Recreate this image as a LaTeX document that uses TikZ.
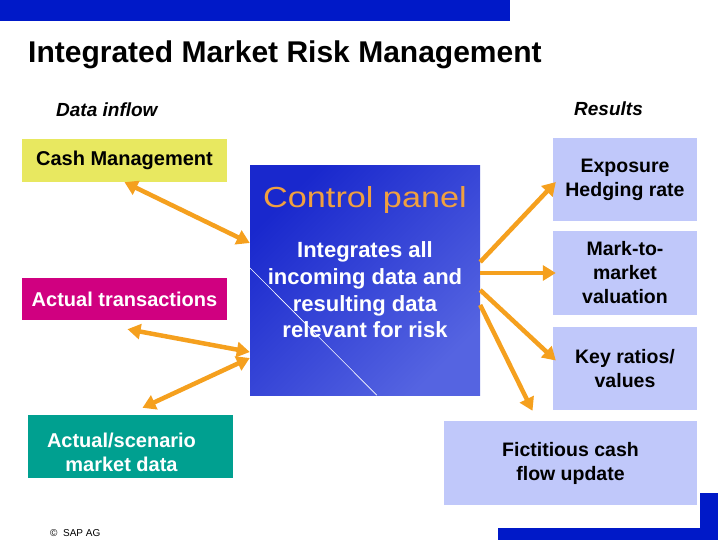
\documentclass[tikz,border=0pt]{standalone}
\usepackage{fontspec}
\setmainfont{Liberation Sans}
\newfontfamily\widefont[FakeStretch=1.18]{Liberation Sans}
\usetikzlibrary{arrows.meta,positioning,calc}

\definecolor{sapblue}{RGB}{0,25,200}
\definecolor{cashyellow}{RGB}{232,232,96}
\definecolor{transmagenta}{RGB}{208,0,128}
\definecolor{marketteal}{RGB}{0,160,144}
\definecolor{resultblue}{RGB}{192,200,250}
\definecolor{arroworange}{RGB}{245,160,30}
\definecolor{paneldark}{RGB}{25,40,205}
\definecolor{panellight}{RGB}{85,100,225}
\definecolor{paneltext}{RGB}{240,160,64}

\tikzset{
  srcbox/.style={inner sep=0pt, minimum width=205pt, align=center, font=\bfseries\fontsize{20}{24}\selectfont},
  resbox/.style={fill=resultblue, inner sep=0pt, align=center, font=\bfseries\fontsize{19.5}{24}\selectfont},
  flow/.style={draw=arroworange, line width=4.5pt, -{Triangle[length=13pt,width=15pt]}},
  biflow/.style={draw=arroworange, line width=4.5pt, {Triangle[length=13pt,width=15pt]}-{Triangle[length=13pt,width=15pt]}}
}

\begin{document}
\begin{tikzpicture}[x=1pt, y=-1pt]
    \useasboundingbox (0,0) rectangle (720,540);
    % frame bars
    \fill[sapblue] (0,0) rectangle (510,21);
    \fill[sapblue] (700,493) rectangle (718,540);
    \fill[sapblue] (498,528) rectangle (718,540);

    \node (title) [anchor=base west, inner sep=0pt, font=\bfseries\fontsize{30}{34}\selectfont] at (28,63) {Integrated Market Risk Management};
    \node (inflow) [anchor=base west, inner sep=0pt, font=\bfseries\itshape\fontsize{19}{22}\selectfont] at (56,117) {Data inflow};
    \node (results) [anchor=base west, inner sep=0pt, font=\bfseries\itshape\fontsize{19}{22}\selectfont] at (574,116) {Results};

    % data inflow
    \node (cash) [srcbox, fill=cashyellow, minimum height=43pt] at (124.5,160.5) {Cash Management};
    \node (tran) [srcbox, fill=transmagenta, text=white, minimum height=42pt] at (124.5,299) {Actual transactions};
    \node (mkt) [srcbox, fill=marketteal, minimum height=63pt] at (130.5,446.5) {};
    \node (mkttext) [text=white, align=center, font=\bfseries\fontsize{20}{24}\selectfont] at ($(mkt.center)+(-9,6)$) {Actual/scenario\\market data};

    % control panel
    \node (control) [minimum width=230pt, minimum height=229pt, inner sep=0pt, top color=paneldark, bottom color=panellight, shading angle=45] at (365,280.5) {};
    \draw[white, line width=0.6pt] ($(control.north west)+(0,102)$) -- ($(control.south west)+(127,0)$);
    \node (cptitle) [text=paneltext, font=\widefont\fontsize{29}{32}\selectfont] at (365,200) {Control panel};
    \node (cpbody) [text=white, align=center, font=\bfseries\fontsize{22}{26.7}\selectfont] at (365,290) {Integrates all\\incoming data and\\resulting data\\relevant for risk};

    % results
    \node (expo) [resbox, minimum width=144pt, minimum height=83pt] at (625,179.5) {Exposure\\Hedging rate};
    \node (mark) [resbox, minimum width=144pt, minimum height=84pt] at (625,273) {Mark-to-\\market\\valuation};
    \node (keyr) [resbox, minimum width=144pt, minimum height=83pt] at (625,368.5) {Key ratios/\\values};
    \node (fict) [resbox, minimum width=253pt, minimum height=84pt] at (570.5,463) {Fictitious cash\\flow update};

    \node (copy) [anchor=west, inner sep=0pt, font=\fontsize{10}{12}\selectfont] at (50,533) {\textcopyright\ \ SAP AG};

    \draw[biflow] (cash.south) -- ([yshift=37.5pt]control.west);
    \draw[biflow] ([xshift=3pt,yshift=-9pt]tran.south) -- ([yshift=-71.5pt]control.west);
    \draw[biflow] ([yshift=-77.5pt]control.west) -- ([xshift=12pt,yshift=7pt]mkt.north);
    \draw[flow] ([yshift=18.5pt]control.east) -- ([xshift=3pt,yshift=-2.5pt]expo.west);
    \draw[flow] ([yshift=7.5pt]control.east) -- ([xshift=3pt]mark.west);
    \draw[flow] ([yshift=-9.5pt]control.east) -- ([xshift=3pt,yshift=8pt]keyr.west);
    \draw[flow] ([yshift=-24.5pt]control.east) -- ([xshift=-38pt,yshift=10pt]fict.north);
\end{tikzpicture}
\end{document}
